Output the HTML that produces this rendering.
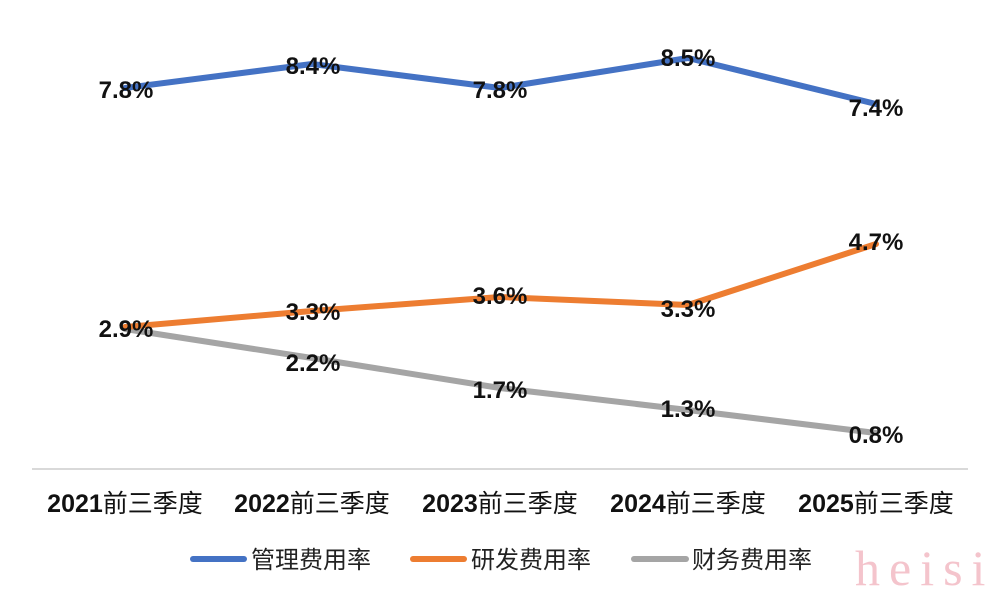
<!DOCTYPE html>
<html><head><meta charset="utf-8"><style>
body{margin:0;background:#fff;}
svg{display:block}
</style></head><body>
<svg width="1001" height="600" xmlns="http://www.w3.org/2000/svg" font-family="'Liberation Sans','Noto Sans CJK SC',sans-serif">
<rect width="1001" height="600" fill="#fff"/>
<line x1="32" y1="469" x2="968" y2="469" stroke="#d9d9d9" stroke-width="2"/>
<g fill="none" stroke-width="6" stroke-linejoin="round" stroke-linecap="round">
<polyline stroke="#4472c4" points="125,88 312,64 500,88 688,58 876,104"/>
<polyline stroke="#a5a5a5" points="125,329 312,358 500,388 688,410 876,433"/>
<polyline stroke="#ed7d31" points="125,327 312,311 500,297 688,305 876,244"/>
</g>
<g font-size="24" font-weight="bold" fill="#111" text-anchor="middle">
<text x="126" y="98">7.8%</text><text x="313" y="74">8.4%</text><text x="500" y="98">7.8%</text><text x="688" y="66">8.5%</text><text x="876" y="116">7.4%</text>
<text x="126" y="337">2.9%</text><text x="313" y="320">3.3%</text><text x="500" y="304">3.6%</text><text x="688" y="317">3.3%</text><text x="876" y="250">4.7%</text>
<text x="313" y="371">2.2%</text><text x="500" y="398">1.7%</text><text x="688" y="417">1.3%</text><text x="876" y="443">0.8%</text>
</g>
<g font-size="25" fill="#111" text-anchor="middle">
<text x="125" y="512"><tspan font-weight="bold">2021</tspan>前三季度</text>
<text x="312" y="512"><tspan font-weight="bold">2022</tspan>前三季度</text>
<text x="500" y="512"><tspan font-weight="bold">2023</tspan>前三季度</text>
<text x="688" y="512"><tspan font-weight="bold">2024</tspan>前三季度</text>
<text x="876" y="512"><tspan font-weight="bold">2025</tspan>前三季度</text>
</g>
<g stroke-width="6" stroke-linecap="round">
<line x1="193" y1="559" x2="244" y2="559" stroke="#4472c4"/>
<line x1="413" y1="559" x2="464" y2="559" stroke="#ed7d31"/>
<line x1="634" y1="559" x2="686" y2="559" stroke="#a5a5a5"/>
</g>
<g font-size="24" fill="#222">
<text x="251" y="568">管理费用率</text>
<text x="471" y="568">研发费用率</text>
<text x="692" y="568">财务费用率</text>
</g>
<text x="855" y="585" font-family="'Liberation Serif',serif" font-size="50" fill="#f4c4cc" letter-spacing="9">heisi</text>
</svg>
</body></html>
